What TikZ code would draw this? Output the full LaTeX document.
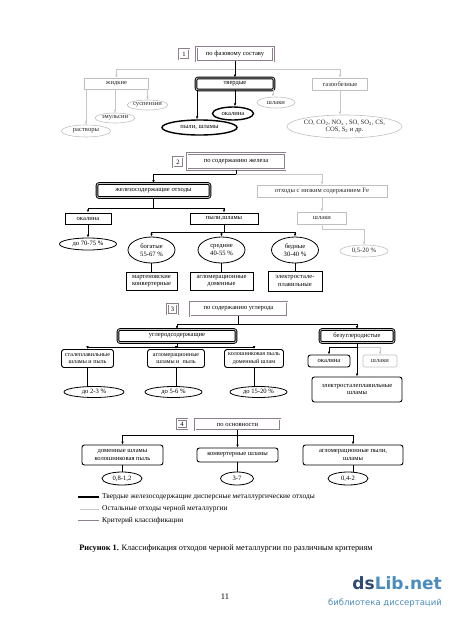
\documentclass[tikz,border=0pt]{standalone}
\usepackage{fontspec}
\setmainfont{Liberation Serif}
\newfontfamily\wmfont{DejaVu Sans}
\usetikzlibrary{arrows.meta,shapes.geometric,calc}
\newcommand{\nf}{\fontsize{6.6}{7.6}\selectfont}
\newcommand{\smallbf}{\fontsize{6.1}{7.3}\selectfont}
\newcommand{\lf}{\fontsize{7.4}{8.4}\selectfont}
\newcommand{\cf}{\fontsize{8.3}{9.3}\selectfont}
\definecolor{wmdark}{RGB}{45,75,115}
\definecolor{wmlight}{RGB}{75,140,190}
\definecolor{critc}{RGB}{140,128,140}
\begin{document}
\begin{tikzpicture}[x=1pt,y=-1pt,
  every node/.style={font=\nf, inner sep=0pt},
  crit/.style={rectangle, draw=critc, double=white, line width=0.9pt, double distance=0.8pt},
  num/.style={crit, minimum width=10pt, minimum height=10pt},
  mainbox/.style={rectangle, rounded corners=2pt, draw=black, double=gray!45, line width=0.9pt, double distance=0.8pt},
  blkbox/.style={rectangle, draw=black, line width=1pt},
  rbox/.style={rectangle, rounded corners=2.5pt, draw=black, line width=0.9pt},
  gbox/.style={rectangle, draw=gray!50, line width=0.6pt, text=black!85},
  bell/.style={ellipse, draw=black, line width=0.8pt},
  tbell/.style={ellipse, draw=black, line width=1.4pt},
  gell/.style={ellipse, draw=gray!50, line width=0.6pt, text=black!85},
  bl/.style={draw=black, line width=0.8pt},
  ba/.style={bl, -{Latex[length=3pt,width=2.6pt]}},
  gl/.style={draw=gray!45, line width=0.6pt},
  ga/.style={gl, -{Latex[length=3pt,width=2.6pt]}}
]
\useasboundingbox (0,0) rectangle (450,624);

% ---------------- Section 1
\node[num] (n1) at (184,54) {1};
\node[crit, minimum width=77pt, minimum height=14pt] (h1) at (235,54) {по фазовому составу};
\node[gbox, minimum width=64pt, minimum height=11pt] (liq) at (116.5,83.5) {жидкие};
\node[mainbox, minimum width=78pt, minimum height=12pt] (sol) at (235,84) {твердые};
\node[gbox, minimum width=55pt, minimum height=12pt] (gas) at (340,84) {газообезные};
\node[gell, minimum width=49pt, minimum height=12pt] (rast) at (86,131) {растворы};
\node[gell, minimum width=40pt, minimum height=10pt] (emul) at (115,118) {эмульсии};
\node[gell, minimum width=39pt, minimum height=10pt] (susp) at (147.5,105) {суспензии};
\node[tbell, minimum width=75pt, minimum height=15pt] (pyl) at (199.5,127.5) {пыли, шламы};
\node[tbell, minimum width=41pt, minimum height=13pt] (okl) at (233,113.5) {окалина};
\node[gell, minimum width=38pt, minimum height=11pt] (shl1) at (276,102.5) {шлаки};
\node[gell, minimum width=115pt, minimum height=23pt, align=center] (gs) at (344.5,126.5)
  {CO, CO\textsubscript{2}, NO\textsubscript{x} , SO, SO\textsubscript{2}, CS,\\COS, S\textsubscript{2} и др.};

\path (h1.south) ++(0,8) coordinate (j1);
\draw[ga] (j1) -| (liq.north);
\draw[ga] (j1) -| (gas.north);
\draw[ba] (h1.south) -- (sol.north);
\draw[ga] (rast.north |- liq.south) -- (rast.north);
\draw[ga] (emul.north |- liq.south) -- (emul.north);
\draw[ga] (susp.north |- liq.south) -- (susp.north);
\draw[ba] ([xshift=1.5pt]sol.south west) -- ([xshift=1.5pt]sol.south west |- pyl.north);
\draw[ba] (sol.south) -- (sol.south |- okl.north);
\draw[ga] ([xshift=-1.5pt]sol.south east) -- ([xshift=-1.5pt]sol.south east |- shl1.north);
\draw[ga] (gas.south) -- (gas.south |- gs.north);

% ---------------- Section 2
\node[num] (n2) at (178,162) {2};
\node[crit, minimum width=98pt, minimum height=16pt] (h2) at (236,161.5) {по содержанию железа};
\node[mainbox, minimum width=113pt, minimum height=14pt] (fe) at (153.5,190.5) {железосодержащие отходы};
\node[gbox, minimum width=130pt, minimum height=12pt] (low) at (322,191) {отходы с низким содержанием Fe};
\node[blkbox, minimum width=46pt, minimum height=11pt] (ok2) at (88,218.5) {окалина};
\node[blkbox, minimum width=68pt, minimum height=11pt] (ps2) at (224,218.5) {пыли,шламы};
\node[gbox, minimum width=49pt, minimum height=12pt] (shl2) at (322,218) {шлаки};
\node[bell, minimum width=57pt, minimum height=12pt] (r1) at (88,244) {до 70-75 \%};
\node[gell, minimum width=48pt, minimum height=12pt] (r2) at (364,251) {0,5-20 \%};
\node[bell, minimum width=47pt, minimum height=26pt, align=center] (bog) at (151.5,250) {богатые\\55-67 \%};
\node[bell, minimum width=47pt, minimum height=26pt, align=center] (sre) at (221.5,250) {средние\\40-55 \%};
\node[bell, minimum width=47pt, minimum height=26pt, align=center] (bed) at (295,250) {бедные\\30-40 \%};
\node[blkbox, minimum width=51pt, minimum height=18pt, align=center] (mar) at (151.5,281) {мартеновские\\конвертерные};
\node[blkbox, minimum width=63pt, minimum height=18pt, align=center] (agl) at (221.5,281) {агломерационные\\доменные};
\node[blkbox, minimum width=54pt, minimum height=20pt, align=center] (ele) at (295,281) {электростале-\\плавильные};

\path (h2.south) ++(0,4) coordinate (j2);
\draw[ga] (j2) -| (low.north);
\draw[bl] (h2.south) -- (j2);
\draw[ba] (j2) -| (fe.north);
\draw[ga] (low.south) -- (shl2.north);
\draw[ga] (shl2.south) -- ++(0,4.5) -| (r2.north);
\path (fe.south) ++(0,10) coordinate (j3);
\draw[bl] (fe.south) -- (j3);
\draw[ba] (j3) -| (ok2.north);
\draw[ba] (j3) -| (ps2.north);
\draw[ba] (ok2.south) -- (r1.north);
\path (ps2.south) ++(0,8) coordinate (j4);
\draw[bl] (ps2.south) -- (j4);
\draw[ba] (j4) -| (bog.north);
\draw[ba] (j4) -| (sre.north);
\draw[ba] (j4) -| (bed.north);
\draw[bl] (bog.south) -- (mar.north);
\draw[bl] (sre.south) -- (agl.north);
\draw[bl] (bed.south) -- (ele.north);

% ---------------- Section 3
\node[num] (n3) at (172.5,309) {3};
\node[crit, minimum width=97pt, minimum height=14pt] (h3) at (238.5,309) {по содержанию углерода};
\node[mainbox, minimum width=118pt, minimum height=13pt] (carb) at (177,336) {углеродсодержащие};
\node[mainbox, minimum width=74pt, minimum height=13pt] (ncarb) at (357,336) {безуглеродистые};
\node[rbox, font=\smallbf, minimum width=52pt, minimum height=18pt, align=center] (s1) at (87.5,358.5) {сталеплавильные\\шламы и пыль};
\node[rbox, font=\smallbf, minimum width=57pt, minimum height=18pt, align=center] (s2) at (176,358.5) {агломерационные\\шламы и\ \ пыль};
\node[rbox, font=\smallbf, minimum width=59pt, minimum height=18pt, align=center] (s3) at (254,358.5) {колошниковая пыль\\доменный шлам};
\node[bell, minimum width=60pt, minimum height=11pt] (e1) at (94,392) {до 2-3 \%};
\node[bell, minimum width=57pt, minimum height=11pt] (e2) at (173.5,392) {до 5-6 \%};
\node[bell, minimum width=57pt, minimum height=11pt] (e3) at (258.5,392) {до 15-20 \%};
\node[rbox, minimum width=42pt, minimum height=12pt] (ok3) at (329,361) {окалина};
\node[gbox, rounded corners=2pt, minimum width=34pt, minimum height=12pt] (shl3) at (380,361) {шлаки};
\node[rbox, minimum width=90pt, minimum height=25pt, align=center] (el3) at (357,389.5) {электросталеплавильные\\шламы};

\path (h3.south) ++(0,8) coordinate (j5);
\draw[bl] (h3.south) -- (j5);
\draw[ba] (j5) -| (carb.north);
\draw[ba] (j5) -| (ncarb.north);
\path (carb.south) ++(0,4.5) coordinate (j6);
\draw[bl] (carb.south) -- (j6);
\draw[ba] (j6) -| (s1.north);
\draw[ba] (j6) -| (s2.north);
\draw[ba] (j6) -| (s3.north);
\draw[bl] (s1.south) -- (s1.south |- e1.north);
\draw[bl] (s2.south) -- (s2.south |- e2.north);
\draw[bl] (s3.south) -- (s3.south |- e3.north);
\path (ncarb.south) ++(0,4.5) coordinate (j7);
\draw[ga] (j7) -| (shl3.north);
\draw[ba] (j7) -| (ok3.north);
\draw[ba] (ncarb.south) -- (el3.north);

% ---------------- Section 4
\node[num, minimum height=9pt] (n4) at (182,424) {4};
\node[crit, minimum width=85pt, minimum height=11pt] (h4) at (237.5,424.5) {по основности};
\node[rbox, minimum width=81pt, minimum height=20pt, align=center] (d1) at (122.5,455) {доменные шламы\\колошниковая пыль};
\node[rbox, minimum width=81pt, minimum height=14pt] (d2) at (237.5,455) {конвертерные шламы};
\node[rbox, minimum width=100pt, minimum height=20pt, align=center] (d3) at (353,455) {агломерационные пыли,\\шламы};
\node[bell, minimum width=40pt, minimum height=13pt] (f1) at (122,478.5) {0,8-1,2};
\node[bell, minimum width=33pt, minimum height=13pt] (f2) at (237,478.5) {3-7};
\node[bell, minimum width=40pt, minimum height=13pt] (f3) at (348,478.5) {0,4-2};

\path (h4.south) ++(0,5) coordinate (j8);
\draw[bl] (h4.south) -- (j8);
\draw[ba] (j8) -| (d1.north);
\draw[ba] (j8) -| (d2.north);
\draw[ba] (j8) -| (d3.north);
\draw[bl] (d1.south) -- (d1.south |- f1.north);
\draw[bl] (d2.south) -- (d2.south |- f2.north);
\draw[bl] (d3.south) -- (d3.south |- f3.north);

% ---------------- Legend
\draw[line width=1.3pt] (78,497) -- (99,497);
\draw[gl] (80,509) -- (99,509);
\draw[draw=critc, double=white, line width=0.6pt, double distance=0.6pt] (78,521) -- (99,521);
\node[anchor=west, font=\lf] (lt1) at (102,497) {Твердые железосодержащие дисперсные металлургические отходы};
\node[anchor=west, font=\lf] (lt2) at (102,509) {Остальные отходы черной металлургии};
\node[anchor=west, font=\lf] (lt3) at (102,521) {Критерий классификации};

\node[font=\cf] (cap) at (226,549) {\textbf{Рисунок 1.} Классификация отходов черной металлургии по различным критериям};
\node[font=\fontsize{8.5}{9.5}\selectfont] (pg) at (225,597) {11};

% watermark
\node[anchor=east, font=\wmfont\bfseries\fontsize{17}{17}\selectfont] (wm1) at (442,583) {\textcolor{wmdark}{ds}\textcolor{wmlight}{Lib.net}};
\node[anchor=east, font=\wmfont\fontsize{8.5}{9}\selectfont, text=wmlight] (wm2) at (442,603) {библиотека диссертаций};
\end{tikzpicture}
\end{document}
